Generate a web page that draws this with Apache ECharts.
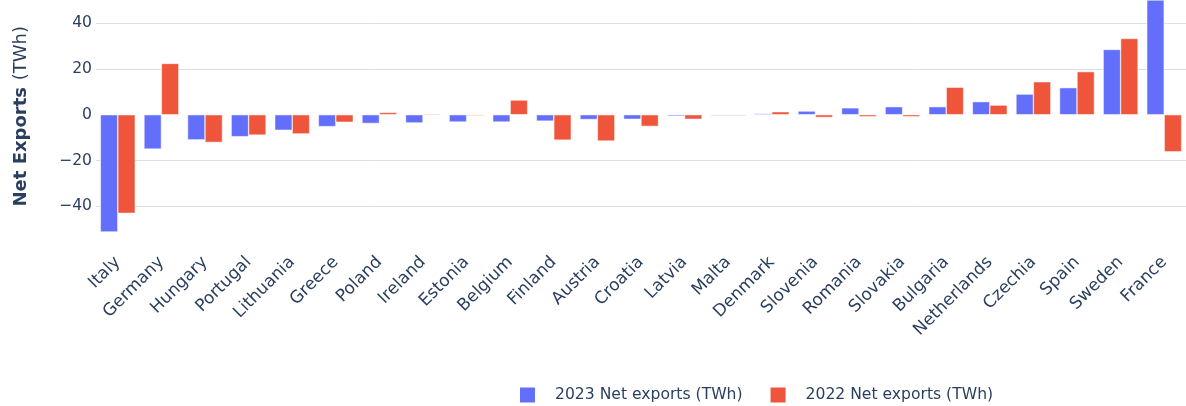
<!DOCTYPE html>
<html>
<head>
<meta charset="utf-8">
<script src="https://cdn.jsdelivr.net/npm/echarts@6/dist/echarts.min.js"></script>
<style>
  html, body { margin: 0; padding: 0; background: #fff; }
  #chart { width: 1186px; height: 406px; }
</style>
</head>
<body>
<div id="chart"></div>
<script>
// Net electricity exports by country, TWh
const countries = ['Italy', 'Germany', 'Hungary', 'Portugal', 'Lithuania', 'Greece', 'Poland',
  'Ireland', 'Estonia', 'Belgium', 'Finland', 'Austria', 'Croatia', 'Latvia', 'Malta',
  'Denmark', 'Slovenia', 'Romania', 'Slovakia', 'Bulgaria', 'Netherlands', 'Czechia',
  'Spain', 'Sweden', 'France'];
const exports2023 = [-51.2, -15.0, -11.0, -9.6, -6.8, -5.2, -3.8, -3.6, -3.2, -3.2, -2.8,
  -2.1, -2.0, -0.6, -0.4, 0.5, 1.6, 3.0, 3.5, 3.5, 5.7, 9.0, 11.8, 28.5, 50.1];
const exports2022 = [-43.1, 22.4, -12.1, -8.9, -8.4, -3.3, 1.0, 0.4, -0.4, 6.4, -11.1,
  -11.5, -5.1, -2.0, -0.4, 1.3, -1.2, -0.9, -0.9, 12.0, 4.2, 14.4, 18.8, 33.3, -16.2];
const yTicks = [-40, -20, 0, 20, 40];
const yGridValues = [-40, -20, 20, 40];
const seriesNames = ['2023 Net exports (TWh)', '2022 Net exports (TWh)'];

const textColor = '#2a3f5f';
const font = 'DejaVu Sans, Verdana, sans-serif';

const chart = echarts.init(document.getElementById('chart'), null, { renderer: 'canvas' });
chart.setOption({
  animation: false,
  backgroundColor: '#ffffff',
  grid: { left: 96, top: 0, width: 1096, height: 232.6, containLabel: false },
  legend: {
    data: seriesNames,
    left: 520,
    top: 387,
    padding: 0,
    icon: 'rect',
    itemWidth: 15,
    itemHeight: 15,
    itemGap: 28,
    itemStyle: { borderWidth: 0 },
    textStyle: { color: textColor, fontFamily: font, fontSize: 15.6, padding: [0, 0, 0, 15] }
  },
  xAxis: {
    type: 'category',
    data: countries,
    axisLine: { show: false, onZero: false },
    axisTick: { show: false },
    axisLabel: {
      interval: 0,
      rotate: 45,
      margin: 27,
      color: textColor,
      fontFamily: font,
      fontSize: 17
    }
  },
  yAxis: {
    type: 'value',
    min: -51.5,
    max: 50.1,
    name: '{b|Net Exports}  {r|(TWh)}',
    nameLocation: 'middle',
    nameRotate: 90,
    nameGap: 66,
    nameTextStyle: {
      rich: {
        b: { fontFamily: font, fontSize: 18, fontWeight: 'bold', color: textColor },
        r: { fontFamily: font, fontSize: 18, color: textColor }
      }
    },
    axisLine: { show: false },
    axisTick: { show: false, customValues: yGridValues },
    axisLabel: {
      customValues: yTicks,
      margin: 4,
      color: textColor,
      fontFamily: font,
      fontSize: 15.6,
      formatter: v => (v < 0 ? '\u2212' + Math.abs(v) : String(v))
    },
    splitLine: { show: true, lineStyle: { color: '#dedede', width: 1 } }
  },
  series: [
    {
      name: seriesNames[0],
      type: 'bar',
      data: exports2023,
      barGap: '0%',
      barCategoryGap: '20%',
      itemStyle: { color: '#636EFA', borderColor: '#ffffff', borderWidth: 0.5 }
    },
    {
      name: seriesNames[1],
      type: 'bar',
      data: exports2022,
      barGap: '0%',
      barCategoryGap: '20%',
      itemStyle: { color: '#EF553B', borderColor: '#ffffff', borderWidth: 0.5 }
    }
  ]
});
</script>
</body>
</html>
